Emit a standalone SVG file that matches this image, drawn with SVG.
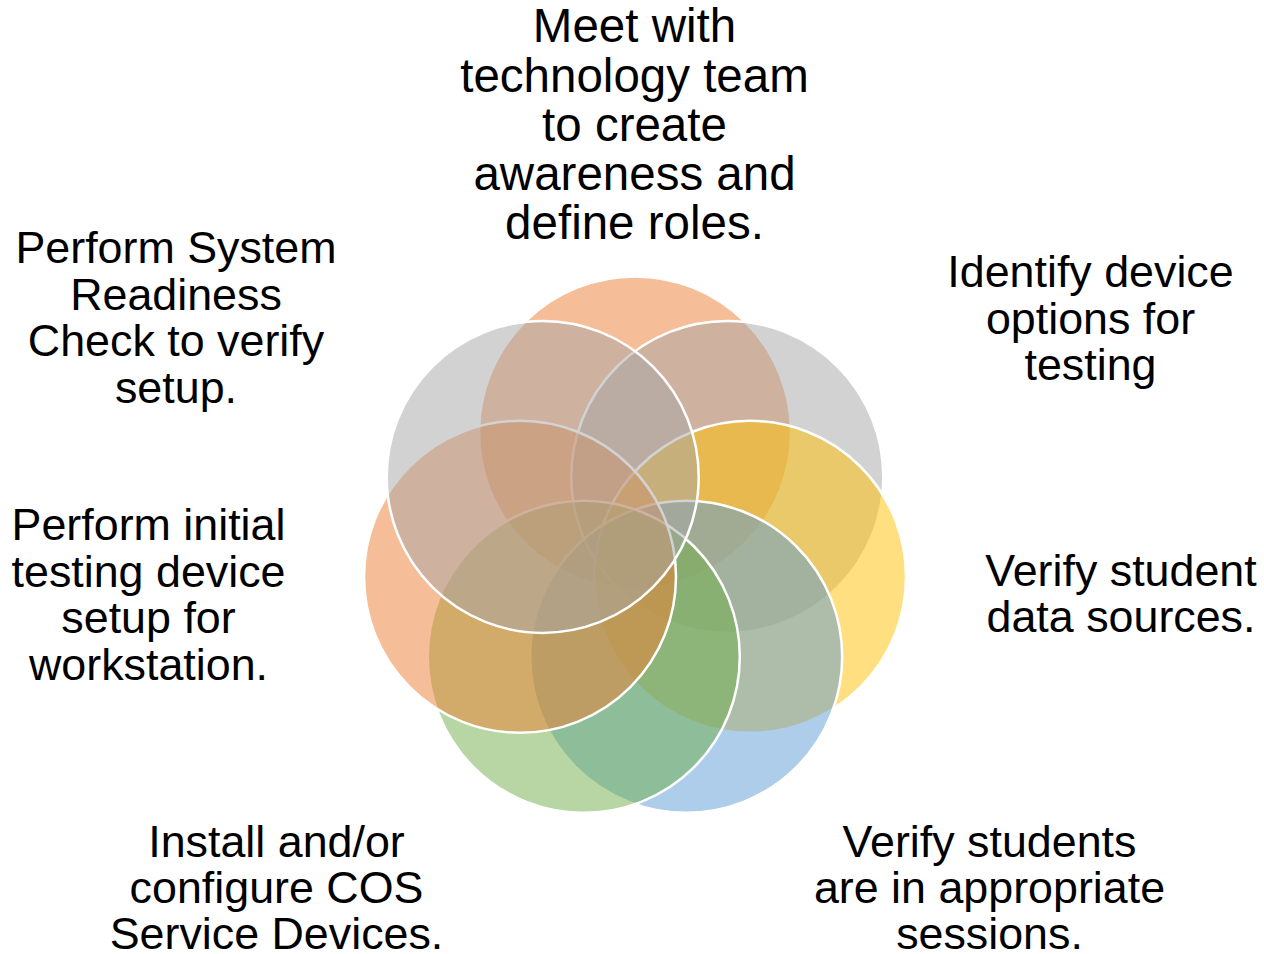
<svg xmlns="http://www.w3.org/2000/svg" width="1264" height="954" viewBox="0 0 1264 954">
  <style>
    .c { stroke: #FFFFFF; stroke-width: 2.5; fill-opacity: 0.5; }
    .t { font-family: "Liberation Sans", Arial, sans-serif; font-size: 44.8px; fill: #000000; text-anchor: middle; }
    .tt { font-size: 47.5px; }
    .orange { fill: #ED7D31; }
    .gray { fill: #A5A5A5; }
    .gold { fill: #FFC000; }
    .blue { fill: #5B9BD5; }
    .green { fill: #70AD47; }
  </style>
  <rect x="0" y="0" width="1264" height="954" fill="#FFFFFF"/>
  <g id="node-meet">
    <circle class="c orange" cx="635" cy="432.5" r="156"/>
    <text class="t tt" x="634.5" y="42">Meet with</text>
    <text class="t tt" x="634.5" y="91.5">technology team</text>
    <text class="t tt" x="634.5" y="141">to create</text>
    <text class="t tt" x="634.5" y="190">awareness and</text>
    <text class="t tt" x="634.5" y="239">define roles.</text>
  </g>
  <g id="node-identify">
    <circle class="c gray" cx="727.3" cy="476.9" r="156"/>
    <text class="t" x="1090.5" y="287">Identify device</text>
    <text class="t" x="1090.5" y="333.5">options for</text>
    <text class="t" x="1090.5" y="380">testing</text>
  </g>
  <g id="node-data">
    <circle class="c gold" cx="750" cy="576.8" r="156"/>
    <text class="t" x="1121" y="585.5">Verify student</text>
    <text class="t" x="1121" y="632">data sources.</text>
  </g>
  <g id="node-sessions">
    <circle class="c blue" cx="686.2" cy="656.8" r="156"/>
    <text class="t" x="989.5" y="857">Verify students</text>
    <text class="t" x="989.5" y="903">are in appropriate</text>
    <text class="t" x="989.5" y="949">sessions.</text>
  </g>
  <g id="node-cos">
    <circle class="c green" cx="583.8" cy="656.8" r="156"/>
    <text class="t" x="276.5" y="857">Install and/or</text>
    <text class="t" x="276.5" y="903">configure COS</text>
    <text class="t" x="276.5" y="949">Service Devices.</text>
  </g>
  <g id="node-workstation">
    <circle class="c orange" cx="520" cy="576.8" r="156"/>
    <text class="t" x="148.5" y="540">Perform initial</text>
    <text class="t" x="148.5" y="586.5">testing device</text>
    <text class="t" x="148.5" y="633">setup for</text>
    <text class="t" x="148.5" y="679.5">workstation.</text>
  </g>
  <g id="node-readiness">
    <circle class="c gray" cx="542.7" cy="476.9" r="156"/>
    <text class="t" x="176" y="263">Perform System</text>
    <text class="t" x="176" y="309.5">Readiness</text>
    <text class="t" x="176" y="356">Check to verify</text>
    <text class="t" x="176" y="402.5">setup.</text>
  </g>
  <g id="connectors"/>
</svg>
